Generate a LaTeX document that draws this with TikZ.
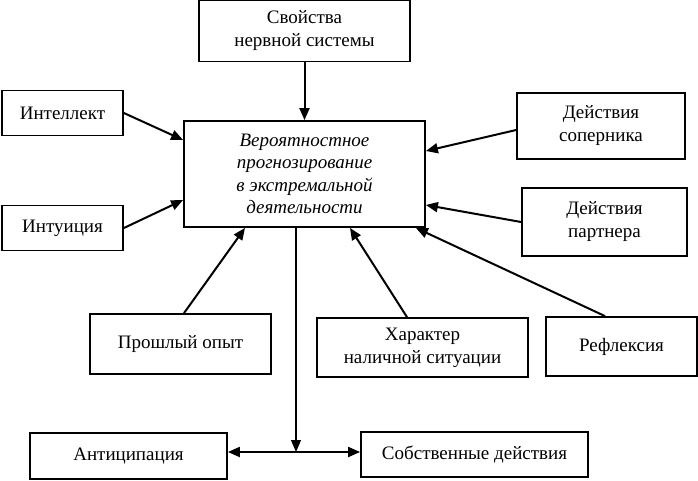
\documentclass[tikz,border=0pt]{standalone}
\usepackage{fontspec}
\setmainfont{Liberation Serif}
\usetikzlibrary{arrows.meta}
\begin{document}
\begin{tikzpicture}[x=1pt,y=-1pt,
  box/.style={draw,line width=1.8pt,inner sep=0pt,align=center,font=\fontsize{19}{23}\selectfont},
  arr/.style={line width=2pt,-{Triangle[length=12pt,width=10pt]}},
  darr/.style={line width=2pt,{Triangle[length=12pt,width=10pt]}-{Triangle[length=12pt,width=10pt]}}]
\useasboundingbox (0,0) rectangle (698,480);
\node[box,minimum width=211pt,minimum height=61pt] (svo) at (304.5,31) {Свойства\\нервной системы};
\node[box,minimum width=241pt,minimum height=106pt,font=\fontsize{19}{22.5}\selectfont\itshape] (cen) at (304.5,174) {Вероятностное\\прогнозирование\\в экстремальной\\деятельности};
\node[box,minimum width=121pt,minimum height=45pt] (int) at (62.5,113) {Интеллект};
\node[box,minimum width=121pt,minimum height=45pt] (intu) at (62.5,228) {Интуиция};
\node[box,minimum width=168pt,minimum height=66pt] (sop) at (601,126) {Действия\\соперника};
\node[box,minimum width=165pt,minimum height=68pt] (par) at (604.5,222) {Действия\\партнера};
\node[box,minimum width=181pt,minimum height=60pt] (pro) at (180.5,344) {Прошлый опыт};
\node[box,minimum width=211pt,minimum height=59pt] (har) at (422.5,347.5) {Характер\\наличной ситуации};
\node[box,minimum width=151pt,minimum height=59pt] (ref) at (621.5,346.5) {Рефлексия};
\node[box,minimum width=197pt,minimum height=46pt] (ant) at (128.5,456) {Антиципация};
\node[box,minimum width=227pt,minimum height=45pt] (sob) at (474.5,454.5) {Собственные действия};
\coordinate (j) at (296,452);
\draw[arr] (svo.south) -- (cen.north);
\draw[arr] (int.east) -- ([yshift=34pt]cen.west);
\draw[arr] (intu.east) -- ([yshift=-26pt]cen.west);
\draw[arr] ([yshift=-4pt]sop.west) -- ([yshift=23pt]cen.east);
\draw[arr] (par.west) -- ([yshift=-31pt]cen.east);
\draw[arr] ([xshift=-16.5pt]ref.north) -- ([xshift=-10pt]cen.south east);
\draw[arr] ([xshift=-15.5pt]har.north) -- ([xshift=45.5pt]cen.south);
\draw[arr] ([xshift=3.5pt]pro.north) -- ([xshift=-59.5pt]cen.south);
\draw[line width=1.2pt,-{Triangle[length=12pt,width=10pt]}] ([xshift=-8.5pt]cen.south) -- (j);
\draw[darr] (j -| ant.east) -- (j -| sob.west);
\end{tikzpicture}
\end{document}
